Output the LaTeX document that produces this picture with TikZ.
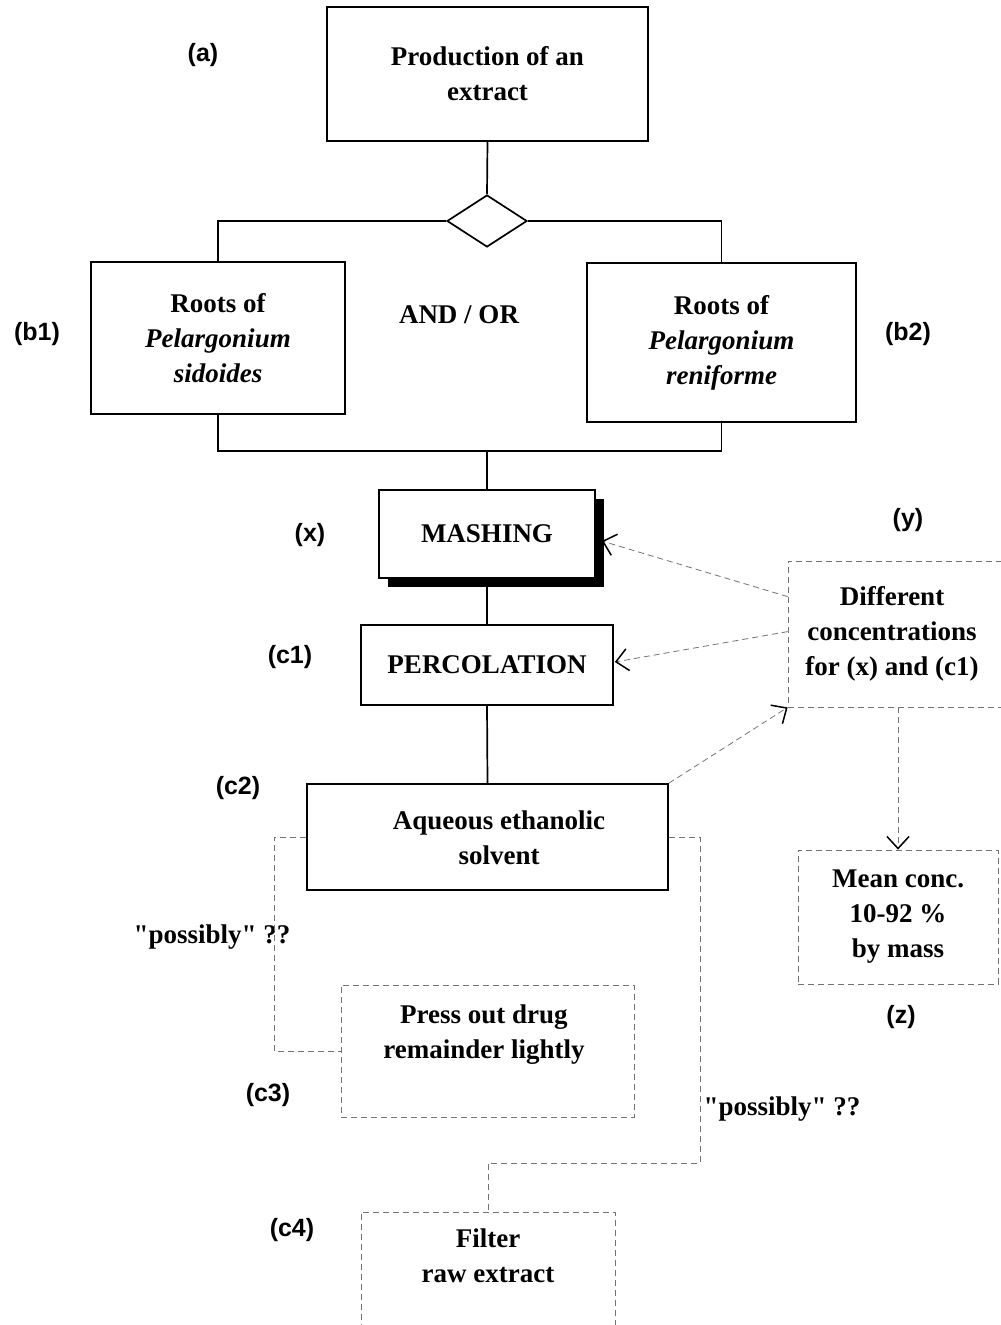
\documentclass[tikz,border=0pt]{standalone}
\usepackage{fontspec}
\setmainfont{Liberation Serif}[Ligatures=TeXOff]
\newfontfamily\lblfont{Liberation Sans}
\usetikzlibrary{arrows.meta,shapes.geometric,calc,shadows}
\begin{document}
\begin{tikzpicture}[x=1pt,y=-1pt,
 box/.style={draw,line width=1.7pt,rectangle,inner sep=0pt,fill=white},
 dbox/.style={draw=black!55,dash pattern=on 6pt off 4pt,line width=0.8pt,rectangle,inner sep=0pt},
 txt/.style={font=\fontsize{27}{35}\selectfont\bfseries,align=center,inner sep=0pt},
 lbl/.style={font=\lblfont\fontsize{25}{30}\selectfont\bfseries,inner sep=0pt},
 conn/.style={line width=1.7pt},
 dconn/.style={draw=black!55,dash pattern=on 6pt off 4pt,line width=0.8pt},
 arr/.style={dconn,-{Straight Barb[length=12pt,width=22pt,line width=1.5pt,color=black]}}
]
\useasboundingbox (0,0) rectangle (1001,1325);

% solid boxes
\node[box,txt,minimum width=321pt,minimum height=134pt] (a) at (487.5,74) {Production of an\\extract};
\node[draw,line width=1.7pt,diamond,inner sep=0pt,minimum width=80pt,minimum height=52pt] (dia) at (487,221) {};
\node[box,txt,minimum width=254pt,minimum height=152pt] (b1) at (218,338) {Roots of\\\textit{Pelargonium}\\\textit{sidoides}};
\node[box,txt,minimum width=269pt,minimum height=159pt] (b2) at (721.5,342.5) {Roots of\\\textit{Pelargonium}\\\textit{reniforme}};
\node[box,txt,minimum width=216pt,minimum height=88pt,drop shadow={shadow xshift=9pt,shadow yshift=-9pt,fill=black,opacity=1}] (mash) at (487,534) {MASHING};
\node[box,txt,minimum width=252pt,minimum height=80pt] (perc) at (487,665) {PERCOLATION};
\node[box,minimum width=361pt,minimum height=106pt] (aq) at (487.5,837) {};
\node[txt] (aqt) at (499,837.5) {Aqueous ethanolic\\solvent};

% dashed boxes
\node[dbox,minimum width=224pt,minimum height=146pt] (diff) at (900,634) {};
\node[txt] (difft) at (892,634) {Different\\concentrations\\for (x) and (c1)};
\node[dbox,txt,minimum width=200pt,minimum height=134pt] (mean) at (898,917) {Mean conc.\\10-92 \%\\by mass};
\node[dbox,minimum width=293pt,minimum height=132pt] (press) at (487.5,1051) {};
\node[txt] (presst) at (484,1034.5) {Press out drug\\remainder lightly};
\node[dbox,minimum width=254pt,minimum height=140pt] (filt) at (488,1282) {};
\node[txt] (filtt) at (488,1255.5) {Filter\\raw extract};

% middle text
\node[txt] (andor) at (459,315) {AND / OR};
\node[txt] (pos1) at (212,937) {"possibly" ??};
\node[txt] (pos2) at (782,1109) {"possibly" ??};

% labels
\node[lbl] (la) at (203,55) {(a)};
\node[lbl] (lb1) at (37,334) {(b1)};
\node[lbl] (lb2) at (908,334) {(b2)};
\node[lbl] (lx) at (310,535) {(x)};
\node[lbl] (ly) at (908,520) {(y)};
\node[lbl] (lc1) at (290,657) {(c1)};
\node[lbl] (lc2) at (238,788) {(c2)};
\node[lbl] (lz) at (901,1017) {(z)};
\node[lbl] (lc3) at (268,1095) {(c3)};
\node[lbl] (lc4) at (292,1230) {(c4)};

% solid connectors
\coordinate (join) at (487,451);
\draw[conn] (a.south) -- (dia.north);
\draw[conn] (dia.west) -| (b1.north);
\draw[conn] (dia.east) -| (b2.north);
\draw[conn] (b1.south) |- (join);
\draw[conn] (b2.south) |- (join);
\draw[conn] (join) -- (mash.north);
\draw[conn] (mash.south) -- (perc.north);
\draw[conn] (perc.south) -- (aq.north);

% dashed connectors
\coordinate (cl) at (274,1051);
\coordinate (cr) at (700,1163);
\draw[dconn] (aq.west) -| (cl) -- (press.west);
\draw[dconn] (aq.east) -| (cr) -| (filt.north);

% dashed arrows
\coordinate (d1) at ($(diff.north west)+(0,36)$);
\coordinate (d2) at ($(diff.north west)+(0,71)$);
\draw[arr] (d1) -- ($(mash.east)+(6,7)$);
\draw[arr] (d2) -- ($(perc.east)+(1,-3)$);
\draw[arr] (aq.north east) -- (diff.south west);
\draw[arr] (diff.south -| mean.north) -- (mean.north);
\end{tikzpicture}
\end{document}
